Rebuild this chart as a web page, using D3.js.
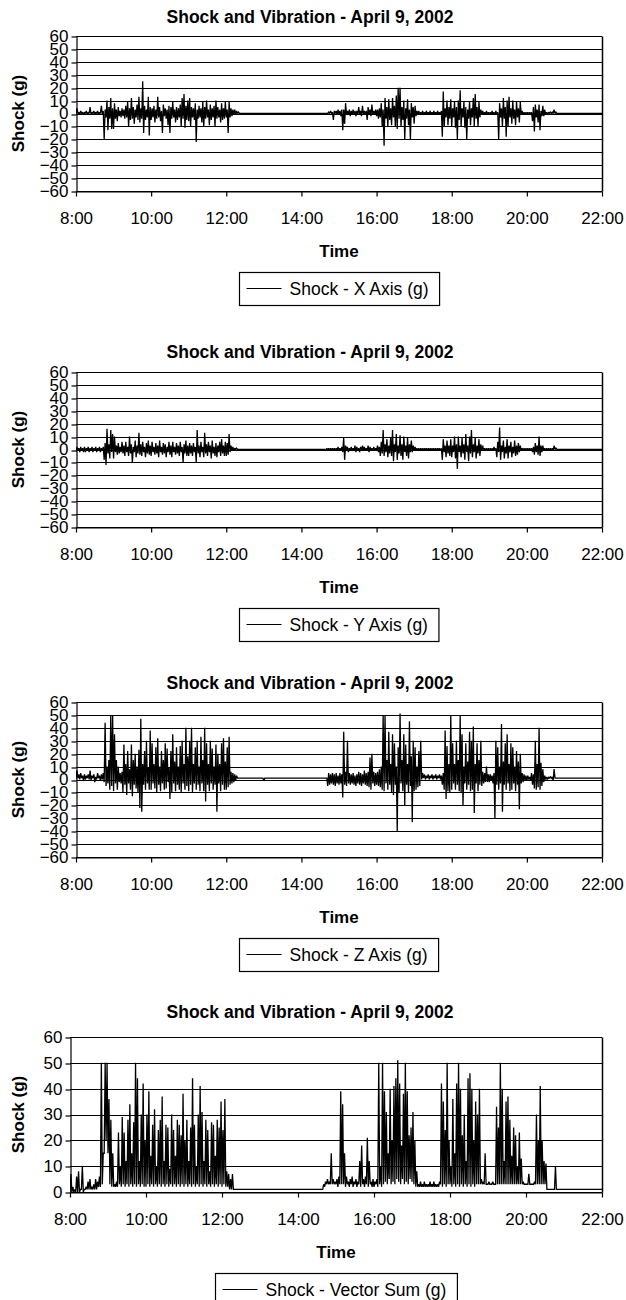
<!DOCTYPE html>
<html><head><meta charset="utf-8">
<script src="https://cdn.jsdelivr.net/npm/d3@7/dist/d3.min.js"></script>
<style>body{margin:0;background:#fff}svg{display:block}</style>
</head><body><svg id="c" width="626" height="1300"></svg>
<script>
// ---------------- DATA ----------------
const chartTitle = "Shock and Vibration - April 9, 2002";
const xTitle = "Time";
const yTitle = "Shock (g)";
const seriesNames = ["Shock - X Axis (g)", "Shock - Y Axis (g)", "Shock - Z Axis (g)", "Shock - Vector Sum (g)"];
const xTickLabels = ["8:00","10:00","12:00","14:00","16:00","18:00","20:00","22:00"];
const yTicksAxis = [60,50,40,30,20,10,0,-10,-20,-30,-40,-50,-60];
const yTicksSum = [60,50,40,30,20,10,0];
// readings from 8:00, one max/min pair per 3-minute interval (rows = hours 8..21, last = 22:00)
const sampleStart = "8:00";
const sampleMinutes = 3;

const xAxisHi = [
4,1,2,1,1,2,1,5,1,2,1,2,1,6,2,3,10,5,12,4,
8,3,5,2,4,3,6,9,4,12,5,3,7,13,4,25,6,3,13,5,
4,6,3,13,5,2,7,4,3,6,5,9,3,5,4,7,12,15,6,10,
12,5,4,8,3,6,4,9,5,10,3,7,4,6,10,5,3,8,4,9,
3,9,4,3,3,2,1,0,0,0,0,0,0,0,0,0,0,0,0,0,
0,0,0,0,0,0,0,0,0,0,0,0,0,0,0,0,0,0,0,0,
0,0,0,0,0,0,0,0,0,0,0,0,0,0,1,2,1,2,2,3,
2,3,3,8,2,3,2,3,2,2,5,2,6,2,2,5,3,7,2,3,
3,4,8,3,12,5,11,4,12,6,14,20,20,5,10,4,11,3,8,5,
6,2,2,1,2,1,2,1,2,1,2,1,2,1,2,17,4,10,5,11,
4,9,5,10,18,4,9,5,3,9,4,12,15,5,9,3,2,1,2,1,
1,2,1,2,1,8,4,12,5,10,13,4,10,3,9,4,9,2,1,1,
1,1,1,5,7,3,7,2,6,3,1,1,1,1,3,1,0,0,0,0,
0,0,0,0,0,0,0,0,0,0,0,0,0,0,0,0,0,0,0,0,
0];
const xAxisLo = [
-1,0,-1,0,-1,0,-1,0,-1,0,-1,0,-1,0,-1,-20,-3,-13,-4,-12,
-12,-4,-6,-2,-3,-2,-4,-3,-10,-5,-4,-8,-3,-5,-7,-4,-15,-5,-3,-17,
-5,-3,-7,-4,-3,-6,-15,-2,-4,-9,-15,-4,-3,-7,-5,-3,-10,-4,-11,-5,
-6,-10,-3,-5,-22,-4,-3,-7,-10,-4,-3,-9,-5,-3,-10,-4,-3,-7,-5,-4,
-3,-15,-3,-2,-1,-1,0,0,0,0,0,0,0,0,0,0,0,0,0,0,
0,0,0,0,0,0,0,0,0,0,0,0,0,0,0,0,0,0,0,0,
0,0,0,0,0,0,0,0,0,0,0,0,0,0,0,0,0,-5,0,-1,
-1,-2,-13,-8,-1,-1,-2,-1,-1,-2,-1,-1,-2,-1,-1,-5,-1,-2,-1,-1,
-2,-4,-3,-10,-25,-4,-10,-5,-9,-3,-10,-12,-4,-10,-5,-20,-4,-9,-20,-3,
-8,-2,-1,-1,-1,-1,-1,-1,-1,-1,-1,-1,-1,-1,-1,-18,-10,-3,-9,-4,
-10,-3,-11,-20,-5,-10,-3,-11,-20,-4,-9,-3,-10,-4,-10,-3,-1,-1,-1,-1,
-1,-1,-1,-1,-1,-20,-3,-10,-4,-18,-10,-3,-8,-4,-9,-3,-7,-1,-1,-1,
-1,-1,-1,-6,-14,-3,-7,-13,-2,-2,-1,-1,0,0,0,0,0,0,0,0,
0,0,0,0,0,0,0,0,0,0,0,0,0,0,0,0,0,0,0,0,
0];

const yAxisHi = [
2,1,2,1,2,1,2,1,2,1,2,1,2,1,2,5,16,4,15,12,
10,3,5,2,6,3,6,2,10,4,2,7,3,13,4,6,2,5,7,3,
6,2,5,3,7,2,5,4,2,6,3,6,2,5,3,6,2,4,7,3,
5,3,5,2,15,3,6,2,13,4,6,3,7,2,5,3,6,8,3,6,
5,12,3,2,1,1,0,0,0,0,0,0,0,0,0,0,0,0,0,0,
0,0,0,0,0,0,0,0,0,0,0,0,0,0,0,0,0,0,0,0,
0,0,0,0,0,0,0,0,0,0,0,0,0,1,1,1,1,1,1,2,
1,2,9,3,2,1,2,1,3,2,1,2,3,2,1,3,2,1,2,1,
3,2,6,15,4,8,3,9,15,4,12,3,11,4,10,3,9,4,7,3,
2,1,1,1,1,1,1,1,1,1,1,1,1,1,1,8,3,7,3,8,
3,10,4,10,3,9,4,12,3,10,15,4,9,3,8,4,3,1,1,1,
1,1,2,1,6,17,3,7,2,8,3,6,2,7,3,5,3,1,1,1,
1,1,1,2,5,3,10,3,3,1,1,1,1,1,3,1,0,0,0,0,
0,0,0,0,0,0,0,0,0,0,0,0,0,0,0,0,0,0,0,0,
0];
const yAxisLo = [
-2,-1,-2,-1,-2,-2,-1,-2,-1,-2,-1,-2,-1,-2,-1,-8,-12,-3,-7,-2,
-7,-2,-4,-3,-2,-3,-5,-2,-5,-3,-10,-2,-6,-3,-4,-5,-2,-6,-3,-4,
-5,-2,-4,-3,-6,-2,-4,-3,-6,-2,-4,-6,-2,-4,-3,-5,-2,-10,-3,-5,
-5,-3,-5,-2,-10,-3,-6,-2,-6,-3,-5,-2,-7,-3,-5,-6,-2,-5,-3,-5,
-5,-4,-2,-1,-1,0,0,0,0,0,0,0,0,0,0,0,0,0,0,0,
0,0,0,0,0,0,0,0,0,0,0,0,0,0,0,0,0,0,0,0,
0,0,0,0,0,0,0,0,0,0,0,0,0,-1,-1,-1,-1,-1,-1,-1,
-1,-1,-2,-8,-1,-2,-1,-1,-1,-2,-1,-2,-1,-1,-1,-1,-2,-1,-1,-1,
-1,-2,-5,-3,-5,-2,-6,-3,-5,-9,-2,-8,-3,-5,-8,-2,-5,-7,-2,-2,
-1,-1,-1,-1,-1,-1,-1,-1,-1,-1,-1,-1,-1,-1,-1,-8,-2,-6,-3,-5,
-6,-2,-7,-15,-2,-6,-3,-8,-2,-9,-3,-6,-2,-7,-3,-5,-1,-1,-1,-1,
-1,-1,-1,-1,-6,-2,-8,-2,-7,-3,-7,-2,-6,-3,-5,-4,-2,-1,-1,-1,
-1,-1,-1,-2,-4,-2,-4,-5,-2,-1,-1,-1,-1,-1,-1,0,0,0,0,0,
0,0,0,0,0,0,0,0,0,0,0,0,0,0,0,0,0,0,0,0,
0];

const zAxisHi = [
7,4,5,3,4,3,4,7,3,4,2,5,3,4,5,44,10,15,50,50,
35,15,10,5,6,27,12,22,8,27,15,20,10,23,47,12,22,30,9,38,
28,12,25,32,10,22,15,28,24,9,22,35,14,25,10,26,30,12,40,18,
30,40,12,25,30,10,33,15,40,28,12,30,24,10,27,20,12,28,32,14,
25,33,6,5,4,3,1,1,1,1,1,1,1,1,1,1,1,1,1,1,
1,1,1,1,1,1,1,1,1,1,1,1,1,1,1,1,1,1,1,1,
1,1,1,1,1,1,1,1,1,1,1,1,1,1,5,4,5,4,5,3,
5,4,37,6,30,5,4,5,3,4,6,5,4,7,5,6,17,20,6,5,
6,8,10,50,50,15,37,12,35,28,10,25,51,15,35,27,12,45,18,30,
25,10,22,30,5,4,3,4,3,4,3,4,3,4,3,5,38,26,12,50,
28,12,30,15,50,35,10,28,14,37,30,41,12,28,15,30,6,5,10,4,
4,3,5,30,25,10,43,14,28,35,12,28,25,10,22,14,20,5,4,3,
3,2,5,4,30,12,40,13,8,3,2,2,2,2,8,1,1,1,1,1,
1,1,1,1,1,1,1,1,1,1,1,1,1,1,1,1,1,1,1,1,
1];
const zAxisLo = [
0,1,0,1,-1,0,1,0,-1,1,-2,0,1,-1,0,-2,-5,-3,-8,-5,
-9,-3,-8,-2,-3,-10,-4,-12,-3,-8,-13,-4,-7,-10,-22,-25,-4,-8,-3,-8,
-8,-3,-7,-10,-4,-9,-3,-8,-7,-2,-15,-10,-3,-9,-4,-8,-10,-3,-8,-5,
-9,-4,-10,-3,-8,-4,-9,-3,-9,-17,-4,-9,-3,-8,-4,-25,-3,-9,-4,-8,
-8,-6,-4,-3,-2,-1,1,1,1,1,1,1,1,1,1,1,1,1,1,1,
-1,1,1,1,1,1,1,1,1,1,1,1,1,1,1,1,1,1,1,1,
1,1,1,1,1,1,1,1,1,1,1,1,1,1,-5,-4,-3,-4,-5,-3,
-4,-3,-14,-4,-5,-3,-4,-3,-4,-5,-3,-4,-5,-3,-4,-5,-6,-8,-3,-5,
-4,-5,-6,-8,-9,-3,-8,-4,-10,-12,-4,-40,-10,-3,-9,-20,-4,-10,-5,-33,
-9,-8,-6,-5,0,1,0,1,0,1,0,1,0,1,0,-4,-8,-15,-9,-10,
-8,-3,-8,-4,-9,-10,-20,-3,-8,-4,-9,-8,-26,-3,-9,-4,-5,-3,-2,-2,
-2,-1,-3,-30,-4,-8,-3,-25,-4,-8,-3,-9,-8,-3,-9,-4,-23,-3,-2,-1,
-1,0,-1,-4,-7,-8,-6,-8,-5,-2,0,0,1,1,-1,1,1,1,1,1,
1,1,1,1,1,1,1,1,1,1,1,1,1,1,1,1,1,1,1,1,
1];

const vectorSumHi = [
7,2,1,6,8,1,10,1,2,4,5,2,3,5,4,6,50,15,50,50,
36,28,15,3,4,23,10,29,23,12,28,34,15,27,50,44,12,30,42,20,
30,39,14,26,32,10,24,28,37,12,26,25,9,30,24,14,28,26,22,38,
20,28,12,25,44,26,10,30,41,31,12,28,24,8,27,26,14,28,25,35,
24,36,8,7,5,7,1,1,1,1,1,1,1,1,1,1,1,1,1,1,
1,1,1,1,1,1,1,1,1,1,1,1,1,1,1,1,1,1,1,1,
1,1,1,1,1,1,1,1,1,1,1,1,1,3,4,5,4,15,5,4,
5,6,39,34,15,6,4,5,6,4,5,4,12,18,5,6,21,12,4,5,
4,5,50,10,50,39,31,15,40,20,41,44,51,42,18,38,50,39,22,25,
31,20,8,3,4,3,4,3,3,4,3,4,3,3,4,42,35,24,50,20,
10,36,15,42,50,40,22,30,12,44,46,40,20,35,30,40,5,4,15,3,
4,3,4,3,33,25,50,40,12,35,37,28,14,25,22,10,23,13,4,3,
3,7,3,3,4,30,20,41,20,12,11,1,1,1,1,10,1,1,1,1,
1,1,1,1,1,1,1,1,1,1,1,1,1,1,1,1,1,1,1,1,
1];
const vectorSumLo = [
0,0,0,0,0,0,1,0,1,1,1,1,1,1,1,2,2,3,15,20,
15,3,2,2,2,2,3,2,3,2,3,2,3,2,3,2,3,2,3,2,
2,3,2,3,2,3,2,3,2,3,2,3,2,3,2,3,2,3,2,3,
2,3,2,3,2,3,2,3,2,3,2,3,2,3,2,3,2,3,2,3,
2,3,2,2,1,1,1,1,1,1,1,1,1,1,1,1,1,1,1,1,
1,1,1,1,1,1,1,1,1,1,1,1,1,1,1,1,1,1,1,1,
1,1,1,1,1,1,1,1,1,1,1,1,1,1,2,3,3,3,3,3,
3,2,3,3,3,2,3,2,3,2,3,2,3,2,3,2,3,2,3,2,
2,3,2,3,2,3,4,3,5,3,4,3,5,4,3,5,3,4,3,5,
4,3,2,2,2,2,2,2,2,2,2,2,2,2,2,3,2,3,2,3,
3,2,3,2,3,2,3,2,3,2,3,2,3,2,3,3,3,3,3,3,
3,3,3,3,3,3,3,3,3,3,3,3,3,3,3,3,3,3,3,3,
3,3,3,3,3,3,3,3,3,3,3,1,1,1,1,1,1,1,1,1,
1,1,1,1,1,1,1,1,1,1,1,1,1,1,1,1,1,1,1,1,
1];

// ---------------- LAYOUT ----------------
const FONT = "'Liberation Sans', Arial, Helvetica, sans-serif";
const W = 626, plotRight = 602, plotH = 155;
const panels = [
  {name: seriesNames[0], hi: xAxisHi, lo: xAxisLo, ticks: yTicksAxis, top: 36,   left: 76, titleY: 23},
  {name: seriesNames[1], hi: yAxisHi, lo: yAxisLo, ticks: yTicksAxis, top: 372,  left: 76, titleY: 358},
  {name: seriesNames[2], hi: zAxisHi, lo: zAxisLo, ticks: yTicksAxis, top: 702,  left: 76, titleY: 689},
  {name: seriesNames[3], hi: vectorSumHi, lo: vectorSumLo, ticks: yTicksSum, top: 1037, left: 70, titleY: 1018}
];

const parseHM = d3.timeParse("%Y-%m-%d %H:%M");
const toDate = s => parseHM("2002-04-09 " + s);
const t0 = toDate(sampleStart);
const xTickDates = xTickLabels.map(toDate);
const xDomain = [xTickDates[0], xTickDates[xTickDates.length - 1]];

const svg = d3.select("#c");
svg.append("rect").attr("width", W).attr("height", 1300).attr("fill", "#fff");
const defs = svg.append("defs");

panels.forEach((p, pi) => {
  const g = svg.append("g");
  const bottom = p.top + plotH;
  const x = d3.scaleTime().domain(xDomain).range([p.left, plotRight]);
  const y = d3.scaleLinear().domain([d3.min(p.ticks), d3.max(p.ticks)]).range([bottom, p.top]);

  g.append("text").attr("x", 310).attr("y", p.titleY).attr("text-anchor", "middle")
    .attr("font-family", FONT).attr("font-weight", "bold").attr("font-size", 17.5).text(chartTitle);

  g.selectAll("line.grid").data(p.ticks).join("line").attr("class", "grid")
    .attr("x1", p.left).attr("x2", plotRight)
    .attr("y1", d => Math.round(y(d)) + 0.5).attr("y2", d => Math.round(y(d)) + 0.5)
    .attr("stroke", "#000").attr("stroke-width", 1);
  g.append("line").attr("x1", plotRight + 0.5).attr("x2", plotRight + 0.5)
    .attr("y1", Math.round(p.top) + 0.5).attr("y2", Math.round(bottom) + 0.5)
    .attr("stroke", "#000").attr("stroke-width", 1.5);

  const clipId = "clip" + pi;
  defs.append("clipPath").attr("id", clipId).append("rect")
    .attr("x", p.left).attr("y", p.top - 1).attr("width", plotRight - p.left).attr("height", plotH + 2);
  const pts = [];
  p.hi.forEach((h, i) => {
    const t = d3.timeMinute.offset(t0, i * sampleMinutes);
    pts.push([t, p.lo[i]]);
    pts.push([d3.timeSecond.offset(t, sampleMinutes * 30), h]);
  });
  const line = d3.line().x(d => x(d[0])).y(d => y(d[1]));
  g.append("path").datum(pts).attr("d", line).attr("fill", "none")
    .attr("stroke", "#000").attr("stroke-width", 1.3).attr("stroke-linejoin", "miter")
    .attr("stroke-miterlimit", 2).attr("clip-path", `url(#${clipId})`);

  const ax = g.append("g").attr("transform", `translate(0,${Math.round(bottom) + 0.5})`)
    .call(d3.axisBottom(x).tickValues(xTickDates).tickFormat(d3.timeFormat("%-H:%M"))
      .tickSize(5).tickSizeOuter(0).tickPadding(15));
  const ay = g.append("g").attr("transform", `translate(${p.left + 0.5},0)`)
    .call(d3.axisLeft(y).tickValues(p.ticks).tickSize(5).tickSizeOuter(0).tickPadding(3));
  [ax, ay].forEach(a => {
    a.attr("font-family", FONT).attr("font-size", 17);
    a.selectAll("path,line").attr("stroke", "#000").attr("stroke-width", 1.2);
    a.selectAll("text").attr("fill", "#000");
  });
  ay.selectAll(".tick line").attr("transform", d => `translate(0,${Math.round(y(d)) + 0.5 - y(d)})`);

  g.append("text").attr("x", (p.left + plotRight) / 2).attr("y", bottom + 66).attr("text-anchor", "middle")
    .attr("font-family", FONT).attr("font-weight", "bold").attr("font-size", 17).text(xTitle);
  g.append("text").attr("transform", `translate(24,${(p.top + bottom) / 2}) rotate(-90)`)
    .attr("text-anchor", "middle").attr("font-family", FONT).attr("font-weight", "bold")
    .attr("font-size", 17).text(yTitle);

  const lg = g.append("g");
  const lt = lg.append("text").attr("font-family", FONT).attr("font-size", 17.5).attr("y", 0).text(p.name);
  const tw = lt.node().getComputedTextLength();
  const boxW = 7 + 35 + 8 + tw + 11, boxH = 33;
  const bx = Math.round((p.left + plotRight) / 2 - boxW / 2) + 0.5;
  const by = Math.round(bottom + 81) + 0.5;
  lg.insert("rect", "text").attr("x", bx).attr("y", by).attr("width", boxW).attr("height", boxH)
    .attr("fill", "#fff").attr("stroke", "#000").attr("stroke-width", 1.2);
  lg.append("line").attr("x1", bx + 7).attr("x2", bx + 42).attr("y1", by + 16).attr("y2", by + 16)
    .attr("stroke", "#000").attr("stroke-width", 1.2);
  lt.attr("x", bx + 50).attr("y", by + 22);
});
</script></body></html>
